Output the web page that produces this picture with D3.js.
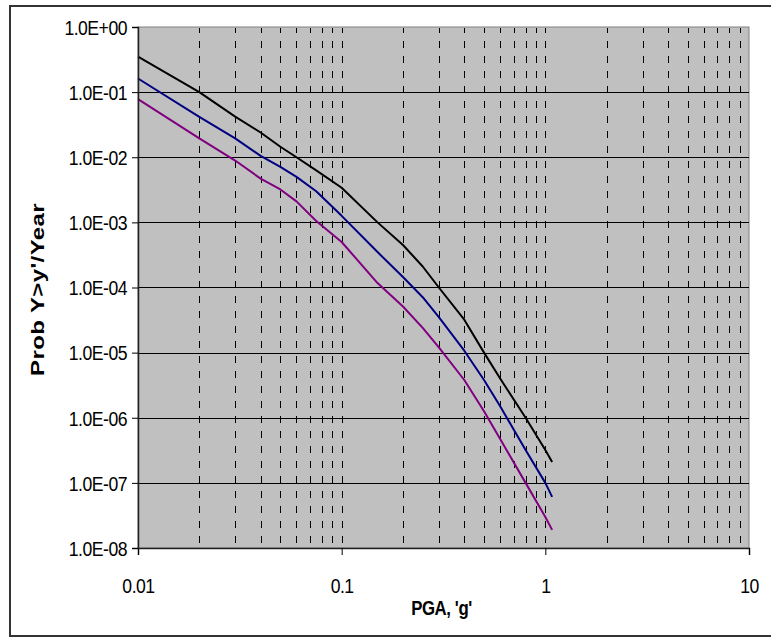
<!DOCTYPE html>
<html>
<head>
<meta charset="utf-8">
<script src="https://cdn.jsdelivr.net/npm/d3@7"></script>
<style>
  html, body { margin: 0; padding: 0; background: #fff; }
  svg { display: block; }
  text { font-family: "Liberation Sans", Arial, sans-serif; fill: #000; }
</style>
</head>
<body>
<svg id="chart" width="771" height="638"></svg>
<script>
// Peak ground acceleration levels (g)
const pga = [0.01, 0.02, 0.03, 0.04, 0.05, 0.06, 0.075, 0.1, 0.15, 0.2, 0.25, 0.3, 0.4, 0.5, 0.6, 0.8, 1.0, 1.08];

// Annual probability of exceedance for each hazard curve
const curveBlack  = [0.35, 0.1, 0.042, 0.024, 0.0145, 0.0100, 0.0063, 0.0034, 1.0e-3, 4.5e-4, 2.1e-4, 1.0e-4, 3.2e-5, 1.0e-5, 4.0e-6, 1.0e-6, 3.2e-7, 2.1e-7];
const curveBlue   = [0.162, 0.0417, 0.0195, 0.0105, 0.0071, 0.0050, 0.0030, 1.26e-3, 3.5e-4, 1.45e-4, 7.1e-5, 3.5e-5, 1.07e-5, 3.8e-6, 1.5e-6, 3.2e-7, 1.0e-7, 6.1e-8];
const curvePurple = [0.078, 0.0195, 0.0089, 0.0047, 0.0032, 0.0021, 1.05e-3, 5.0e-4, 1.17e-4, 5.1e-5, 2.4e-5, 1.2e-5, 3.8e-6, 1.26e-6, 4.7e-7, 1.0e-7, 3.0e-8, 1.9e-8];

// Axis ticks and labels
const xTicks = [0.01, 0.1, 1, 10];
const xTickLabels = ["0.01", "0.1", "1", "10"];
const yTicks = [1, 1e-1, 1e-2, 1e-3, 1e-4, 1e-5, 1e-6, 1e-7, 1e-8];
const yTickLabels = ["1.0E+00", "1.0E-01", "1.0E-02", "1.0E-03", "1.0E-04", "1.0E-05", "1.0E-06", "1.0E-07", "1.0E-08"];

const xTitle = "PGA, 'g'";
const yTitle = "Prob Y>y'/Year";

const series = [
  { values: curveBlack,  color: "#000000" },
  { values: curveBlue,   color: "#000080" },
  { values: curvePurple, color: "#800080" }
];

const svg = d3.select("#chart");
const plot = { left: 138, right: 749, top: 27, bottom: 548 };

const x = d3.scaleLog().domain([0.01, 10]).range([plot.left, plot.right]);
const y = d3.scaleLog().domain([1e-8, 1]).range([plot.bottom, plot.top]);

// Narrow glyph rendering used for the tick labels
const squeeze = 0.84;

// Outer chart frame
svg.append("rect")
  .attr("x", 10).attr("y", 6)
  .attr("width", 775).attr("height", 630)
  .attr("fill", "#fff")
  .attr("stroke", "#333").attr("stroke-width", 2);

// Plot area background
svg.append("rect")
  .attr("x", plot.left).attr("y", plot.top)
  .attr("width", plot.right - plot.left).attr("height", plot.bottom - plot.top)
  .attr("fill", "#c0c0c0")
  .attr("stroke", "#808080").attr("stroke-width", 1);

// Vertical dashed gridlines at every 1-9 multiple of each decade
const xGrid = [];
for (let d = 0.01; d < 10; d *= 10) {
  for (let k = 1; k <= 9; k++) {
    const v = +(d * k).toPrecision(3);
    if (v > 0.01 && v < 10) xGrid.push(v);
  }
}
svg.append("g")
  .selectAll("line")
  .data(xGrid)
  .join("line")
  .attr("x1", d => Math.round(x(d)) + 0.5)
  .attr("x2", d => Math.round(x(d)) + 0.5)
  .attr("y1", plot.top + 1)
  .attr("y2", plot.bottom)
  .attr("stroke", "#000")
  .attr("stroke-width", 1)
  .attr("stroke-dasharray", "7,8")
  .attr("stroke-dashoffset", 2);

// Horizontal gridlines at each decade
svg.append("g")
  .selectAll("line")
  .data(yTicks.filter(v => v < 1 && v > 1e-8))
  .join("line")
  .attr("x1", plot.left)
  .attr("x2", plot.right)
  .attr("y1", d => Math.round(y(d)) + 0.5)
  .attr("y2", d => Math.round(y(d)) + 0.5)
  .attr("stroke", "#000")
  .attr("stroke-width", 1);

// Hazard curves
const line = d3.line()
  .x((d, i) => x(pga[i]))
  .y(d => y(d));

svg.append("g")
  .selectAll("path")
  .data(series)
  .join("path")
  .attr("d", s => line(s.values))
  .attr("fill", "none")
  .attr("stroke", s => s.color)
  .attr("stroke-width", 2)
  .attr("stroke-linejoin", "round");

// Axes
const xAxis = d3.axisBottom(x)
  .tickValues(xTicks)
  .tickFormat((d, i) => xTickLabels[i])
  .tickSize(7);

const yAxis = d3.axisLeft(y)
  .tickValues(yTicks)
  .tickFormat((d, i) => yTickLabels[i])
  .tickSize(6);

const gx = svg.append("g")
  .attr("transform", `translate(0,${plot.bottom})`)
  .call(xAxis);
const gy = svg.append("g")
  .attr("transform", `translate(${plot.left},0)`)
  .call(yAxis);

[gx, gy].forEach(g => {
  g.select(".domain").attr("stroke", "#222").attr("stroke-width", 1.5);
  g.selectAll(".tick line").attr("stroke", "#000");
  g.selectAll(".tick text")
    .attr("font-family", "'Liberation Sans', Arial, sans-serif")
    .attr("font-size", 21)
    .attr("letter-spacing", "-0.6px")
    .attr("fill", "#000")
    .attr("transform", `scale(${squeeze},1)`);
});
gx.selectAll(".tick text").attr("y", 37).attr("dy", "0.36em");
gy.selectAll(".tick text").attr("x", -11 / squeeze).attr("dy", "0.35em");

// Axis titles
svg.append("text")
  .attr("transform", `translate(${(plot.left + plot.right) / 2 - 2},615) scale(0.8,1)`)
  .attr("text-anchor", "middle")
  .attr("font-size", 21)
  .attr("font-weight", "bold")
  .attr("letter-spacing", "-0.5px")
  .text(xTitle);

svg.append("text")
  .attr("transform", `translate(44,${(plot.top + plot.bottom) / 2 + 2}) scale(0.74,1) rotate(-90)`)
  .attr("text-anchor", "middle")
  .attr("font-size", 24)
  .attr("font-weight", "bold")
  .attr("letter-spacing", "0.4px")
  .text(yTitle);
</script>
</body>
</html>
